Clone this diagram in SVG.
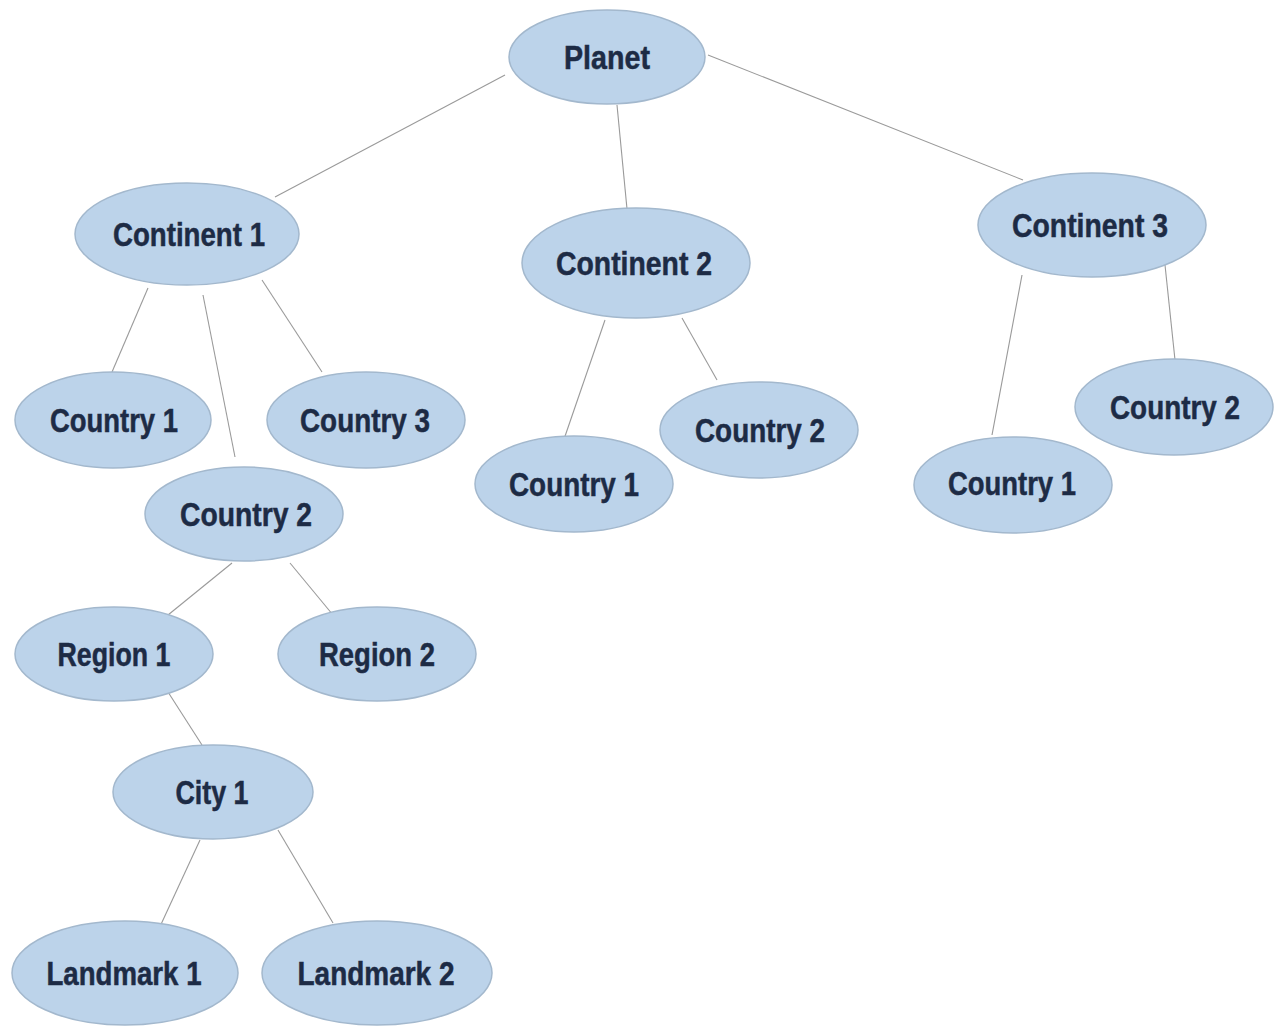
<svg xmlns="http://www.w3.org/2000/svg" width="1275" height="1028" viewBox="0 0 1275 1028">
<style>
.n ellipse{fill:#bcd3ea;stroke:#a3b8cd;stroke-width:1.5}
.n text{font-family:"Liberation Sans","DejaVu Sans",sans-serif;font-weight:bold;font-size:33px;fill:#1d2b45;stroke:#1d2b45;stroke-width:0.5;text-anchor:middle}
.c line{stroke:#9a9a9a;stroke-width:1.1}
</style>
<rect width="1275" height="1028" fill="#ffffff"/>
<g class="c" id="connectors">
<line x1="505" y1="75" x2="275" y2="197"/>
<line x1="617" y1="105" x2="627" y2="209"/>
<line x1="708" y1="55" x2="1023" y2="180"/>
<line x1="148" y1="288" x2="112" y2="372"/>
<line x1="203" y1="295" x2="235" y2="457"/>
<line x1="262" y1="280" x2="322" y2="372"/>
<line x1="605" y1="320" x2="562" y2="445"/>
<line x1="682" y1="318" x2="717" y2="380"/>
<line x1="1022" y1="275" x2="992" y2="435"/>
<line x1="1165" y1="265" x2="1175" y2="360"/>
<line x1="232" y1="563" x2="168" y2="615"/>
<line x1="290" y1="563" x2="333" y2="615"/>
<line x1="168" y1="692" x2="202" y2="745"/>
<line x1="200" y1="840" x2="157" y2="933"/>
<line x1="278" y1="830" x2="333" y2="923"/>
</g>
<g class="n" id="planet"><ellipse cx="607" cy="57" rx="98" ry="47"/><text x="607" y="69" textLength="86" lengthAdjust="spacingAndGlyphs">Planet</text></g>
<g class="n" id="continent1"><ellipse cx="187" cy="234" rx="112" ry="51"/><text x="189" y="246" textLength="152" lengthAdjust="spacingAndGlyphs">Continent 1</text></g>
<g class="n" id="continent2"><ellipse cx="636" cy="263" rx="114" ry="55"/><text x="634" y="275" textLength="156" lengthAdjust="spacingAndGlyphs">Continent 2</text></g>
<g class="n" id="continent3"><ellipse cx="1092" cy="225" rx="114" ry="52"/><text x="1090" y="237" textLength="156" lengthAdjust="spacingAndGlyphs">Continent 3</text></g>
<g class="n" id="c1-country1"><ellipse cx="113" cy="420" rx="98" ry="48"/><text x="114" y="432" textLength="128" lengthAdjust="spacingAndGlyphs">Country 1</text></g>
<g class="n" id="c1-country3"><ellipse cx="366" cy="420" rx="99" ry="48"/><text x="365" y="432" textLength="130" lengthAdjust="spacingAndGlyphs">Country 3</text></g>
<g class="n" id="c1-country2"><ellipse cx="244" cy="514" rx="99" ry="47"/><text x="246" y="526" textLength="132" lengthAdjust="spacingAndGlyphs">Country 2</text></g>
<g class="n" id="c2-country1"><ellipse cx="574" cy="484" rx="99" ry="48"/><text x="574" y="496" textLength="130" lengthAdjust="spacingAndGlyphs">Country 1</text></g>
<g class="n" id="c2-country2"><ellipse cx="759" cy="430" rx="99" ry="48"/><text x="760" y="442" textLength="130" lengthAdjust="spacingAndGlyphs">Country 2</text></g>
<g class="n" id="c3-country2"><ellipse cx="1174" cy="407" rx="99" ry="48"/><text x="1175" y="419" textLength="130" lengthAdjust="spacingAndGlyphs">Country 2</text></g>
<g class="n" id="c3-country1"><ellipse cx="1013" cy="485" rx="99" ry="48"/><text x="1012" y="495" textLength="128" lengthAdjust="spacingAndGlyphs">Country 1</text></g>
<g class="n" id="region1"><ellipse cx="114" cy="654" rx="99" ry="47"/><text x="114" y="666" textLength="113" lengthAdjust="spacingAndGlyphs">Region 1</text></g>
<g class="n" id="region2"><ellipse cx="377" cy="654" rx="99" ry="47"/><text x="377" y="666" textLength="116" lengthAdjust="spacingAndGlyphs">Region 2</text></g>
<g class="n" id="city1"><ellipse cx="213" cy="792" rx="100" ry="47"/><text x="212" y="804" textLength="73" lengthAdjust="spacingAndGlyphs">City 1</text></g>
<g class="n" id="landmark1"><ellipse cx="125" cy="973" rx="113" ry="52"/><text x="124" y="985" textLength="155" lengthAdjust="spacingAndGlyphs">Landmark 1</text></g>
<g class="n" id="landmark2"><ellipse cx="377" cy="973" rx="115" ry="52"/><text x="376" y="985" textLength="157" lengthAdjust="spacingAndGlyphs">Landmark 2</text></g>
</svg>
